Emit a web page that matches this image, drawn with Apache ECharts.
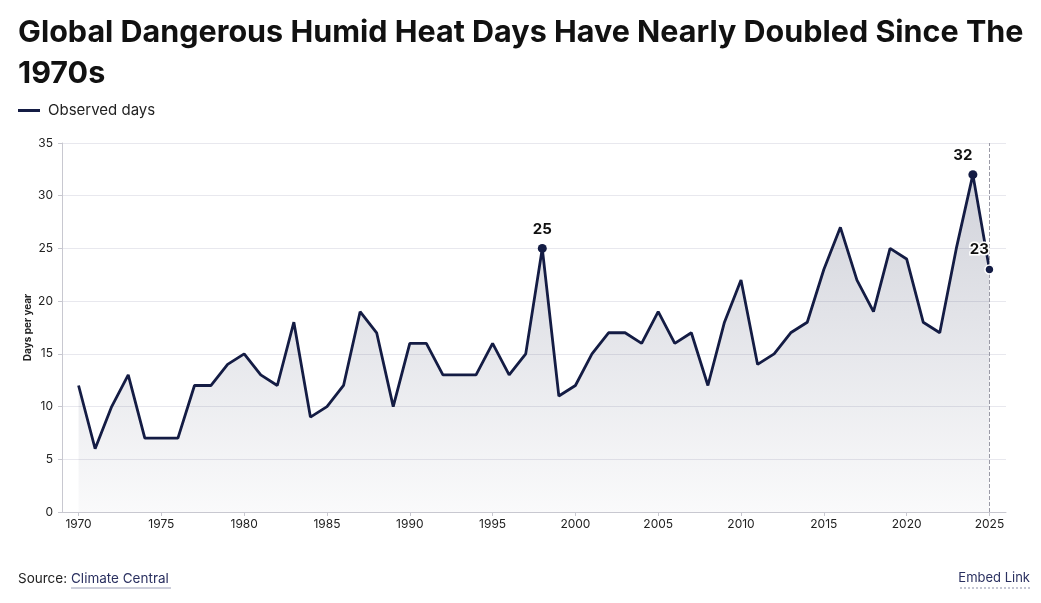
<!DOCTYPE html>
<html>
<head>
<meta charset="utf-8">
<script src="https://cdn.jsdelivr.net/npm/echarts@6/dist/echarts.min.js"></script>
<style>
    html, body { margin: 0; padding: 0; background: #fff; }
    #chart { width: 1041px; height: 603px; }
</style>
</head>
<body>
<div id="chart"></div>
<script>
// 年份与观测天数
var years = [1970, 1971, 1972, 1973, 1974, 1975, 1976, 1977, 1978, 1979,
    1980, 1981, 1982, 1983, 1984, 1985, 1986, 1987, 1988, 1989,
    1990, 1991, 1992, 1993, 1994, 1995, 1996, 1997, 1998, 1999,
    2000, 2001, 2002, 2003, 2004, 2005, 2006, 2007, 2008, 2009,
    2010, 2011, 2012, 2013, 2014, 2015, 2016, 2017, 2018, 2019,
    2020, 2021, 2022, 2023, 2024, 2025];
var observedDays = [12, 6, 10, 13, 7, 7, 7, 12, 12, 14,
    15, 13, 12, 18, 9, 10, 12, 19, 17, 10,
    16, 16, 13, 13, 13, 16, 13, 15, 25, 11,
    12, 15, 17, 17, 16, 19, 16, 17, 12, 18,
    22, 14, 15, 17, 18, 23, 27, 22, 19, 25,
    24, 18, 17, 25, 32, 23];
var xTicks = [1970, 1975, 1980, 1985, 1990, 1995, 2000, 2005, 2010, 2015, 2020, 2025];
var highlightYears = [1998, 2024, 2025];

var titleText = 'Global Dangerous Humid Heat Days Have Nearly Doubled Since The\n1970s';
var seriesName = 'Observed days';

var navy = '#141c44';
var font = 'Inter, "Noto Sans", sans-serif';

var lineData = years.map(function(y, i) {
    return [y, observedDays[i]];
});

// 高亮点
var highlightData = highlightYears.map(function(y) {
    var v = observedDays[years.indexOf(y)];
    var item = { value: [y, v] };
    if (y === 2024) {
        item.label = { offset: [-10, 0] };
    }
    if (y === 2025) {
        item.label = { offset: [-10, 0], textBorderColor: '#fff', textBorderWidth: 3 };
        item.itemStyle = { borderColor: '#fff', borderWidth: 1.5 };
    }
    return item;
});

var myChart = echarts.init(document.getElementById('chart'));
var option = {
    backgroundColor: '#fff',
    animation: false,
    textStyle: { fontFamily: font },
    title: {
        text: titleText,
        left: 18,
        top: 12,
        padding: 0,
        textStyle: {
            fontFamily: font,
            fontSize: 30.5,
            fontWeight: 'bold',
            color: '#111',
            lineHeight: 41
        }
    },
    legend: {
        left: 18,
        top: 103,
        padding: 0,
        icon: 'rect',
        itemWidth: 22,
        itemHeight: 3,
        itemGap: 10,
        data: [{ name: seriesName, itemStyle: { color: navy } }],
        textStyle: { fontFamily: font, fontSize: 15, color: '#222', padding: [0, 0, 0, 3] }
    },
    grid: {
        left: 62,
        right: 35,
        top: 143,
        bottom: 91
    },
    xAxis: {
        type: 'value',
        min: 1969,
        max: 2026,
        axisLine: { show: true, lineStyle: { color: '#c8c8d0' } },
        axisTick: {
            show: true,
            length: 4,
            customValues: xTicks,
            lineStyle: { color: '#c8c8d0' }
        },
        axisLabel: {
            customValues: xTicks,
            color: '#222',
            fontSize: 12,
            margin: 6,
            formatter: function(v) { return String(v); }
        },
        splitLine: { show: false }
    },
    yAxis: {
        type: 'value',
        min: 0,
        max: 35,
        interval: 5,
        name: 'Days per year',
        nameLocation: 'middle',
        nameGap: 33,
        nameMoveOverlap: false,
        nameRotate: 90,
        nameTextStyle: {
            fontFamily: font,
            fontSize: 10,
            fontWeight: 'bold',
            color: '#222',
            padding: [0, 0, -4, 0]
        },
        axisLine: { show: true, lineStyle: { color: '#c8c8d0' } },
        axisTick: { show: true, length: 4, lineStyle: { color: '#c8c8d0' } },
        axisLabel: { color: '#222', fontSize: 12, margin: 9 },
        splitLine: { lineStyle: { color: '#e8e8ee' } }
    },
    series: [{
        name: seriesName,
        type: 'line',
        data: lineData,
        symbol: 'none',
        lineStyle: { color: navy, width: 2.8 },
        itemStyle: { color: navy },
        areaStyle: {
            color: new echarts.graphic.LinearGradient(0, 0, 0, 1, [
                { offset: 0, color: 'rgba(20, 28, 68, 0.28)' },
                { offset: 1, color: 'rgba(20, 28, 68, 0.03)' }
            ])
        },
        markLine: {
            silent: true,
            symbol: 'none',
            label: { show: false },
            lineStyle: { type: 'dashed', color: '#9a9aa6', width: 1 },
            data: [{ xAxis: 2025 }]
        },
        z: 2
    }, {
        name: 'highlight',
        type: 'scatter',
        data: highlightData,
        symbol: 'circle',
        symbolSize: 9,
        itemStyle: { color: navy, opacity: 1 },
        label: {
            show: true,
            position: 'top',
            distance: 7,
            fontFamily: font,
            fontSize: 15,
            fontWeight: 'bold',
            color: '#111',
            formatter: function(p) { return p.value[1]; }
        },
        z: 5
    }],
    graphic: [{
        type: 'text',
        left: 18,
        top: 572,
        style: {
            text: 'Source:',
            font: '13.5px ' + font,
            fill: '#222'
        }
    }, {
        type: 'text',
        left: 71,
        top: 572,
        style: {
            text: 'Climate Central',
            font: '13.5px ' + font,
            fill: '#2a3060'
        }
    }, {
        type: 'line',
        shape: { x1: 71, y1: 588, x2: 171, y2: 588 },
        style: { stroke: '#9a9eb6', lineWidth: 1 }
    }, {
        type: 'text',
        right: 11,
        top: 572,
        style: {
            text: 'Embed Link',
            font: '13px ' + font,
            fill: '#2a3060'
        }
    }, {
        type: 'line',
        shape: { x1: 960, y1: 588, x2: 1030, y2: 588 },
        style: { stroke: '#8a8ea8', lineWidth: 1, lineDash: [2, 2] }
    }]
};
myChart.setOption(option);
</script>
</body>
</html>
